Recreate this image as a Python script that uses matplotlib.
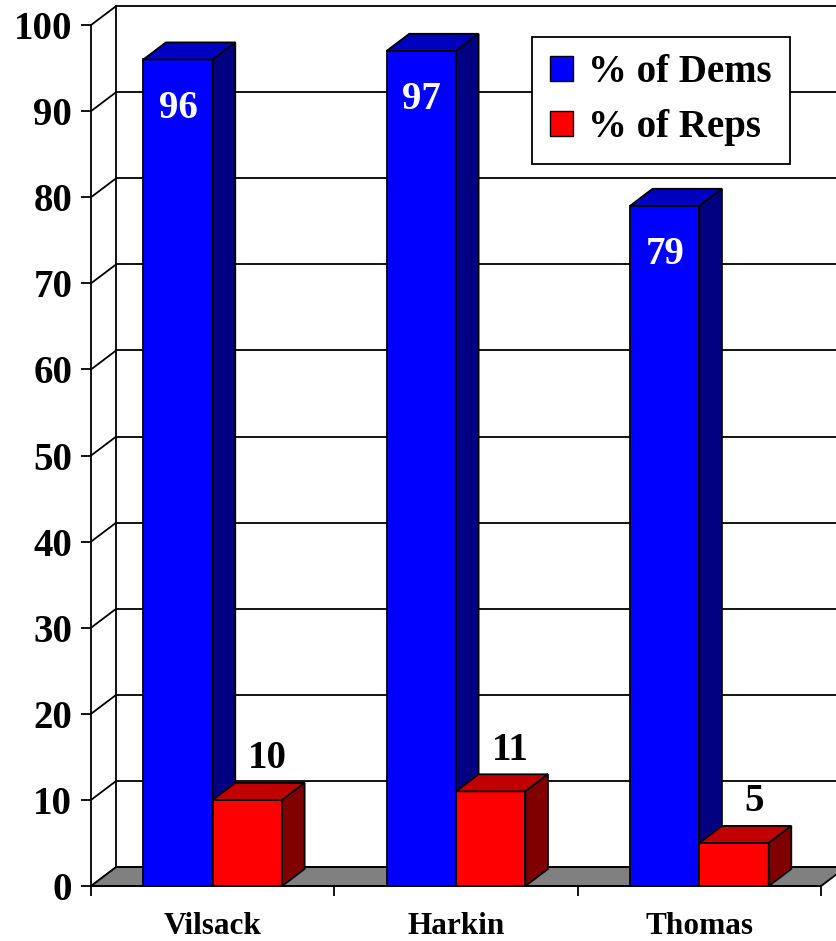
import matplotlib.pyplot as plt
from matplotlib.patches import Polygon, Patch

# ---- data -------------------------------------------------------------
candidates = ["Vilsack", "Harkin", "Thomas"]
dems = [96, 97, 79]
reps = [10, 11, 5]
series_names = ["% of Dems", "% of Reps"]
yticks = list(range(0, 101, 10))

# ---- style ------------------------------------------------------------
FONT = "Liberation Serif"
BLUE = ("#0000ff", "#0000c0", "#000080")   # front, top, side
RED = ("#ff0000", "#c00000", "#800000")
FLOOR = "#808080"
LW = 1.3

BAR_W = 0.285            # width of one bar in category units
DX, DY = 0.103, 2.2      # depth offset of the walls (data units)
BAR_DEPTH = 0.9          # bars are a bit shallower than the floor

fig = plt.figure(figsize=(8.36, 9.41), dpi=100)
fig.patch.set_facecolor("white")
ax = fig.add_axes([0.1089, 0.0584, 0.8732, 0.915])
ax.set_xlim(0, len(candidates))
ax.set_ylim(0, 100)
ax.set_facecolor("none")


def poly(pts, fc, z):
    ax.add_patch(Polygon(pts, closed=True, fc=fc, ec="black", lw=LW,
                         joinstyle="miter", zorder=z, clip_on=False))


def box(x0, h, colors, z):
    dx, dy = DX * BAR_DEPTH, DY * BAR_DEPTH
    x1 = x0 + BAR_W
    front, top, side = colors
    poly([(x0, 0), (x1, 0), (x1, h), (x0, h)], front, z)
    poly([(x0, h), (x1, h), (x1 + dx, h + dy), (x0 + dx, h + dy)], top, z)
    poly([(x1, 0), (x1 + dx, dy), (x1 + dx, h + dy), (x1, h)], side, z)


# walls: gridlines on the left wall (diagonal) and back wall (horizontal)
xmax = len(candidates)
for v in yticks:
    ax.plot([0, DX], [v, v + DY], color="black", lw=LW, zorder=1, clip_on=False)
    ax.plot([DX, xmax + DX + 0.3], [v + DY, v + DY], color="black", lw=LW,
            zorder=1, clip_on=False)
ax.plot([DX, DX], [DY, 100 + DY], color="black", lw=LW, zorder=1, clip_on=False)

# floor
poly([(0, 0), (xmax, 0), (xmax + DX, DY), (DX, DY)], FLOOR, 2)

# bars
for i, (d, r) in enumerate(zip(dems, reps)):
    c = i + 0.5
    box(c - BAR_W, d, BLUE, 5 + i)
    box(c, r, RED, 5 + i)
    ax.text(c - BAR_W / 2, d - 5.7, str(d), color="white", ha="center",
            va="center", fontsize=28, fontweight="bold", family=FONT, zorder=20)
    ax.text(c + BAR_W / 2 + 0.082, r + 4.8, str(r), color="black", ha="center",
            va="center", fontsize=28, fontweight="bold", family=FONT, zorder=20)

# axes
for s in ("top", "right"):
    ax.spines[s].set_visible(False)
for s in ("left", "bottom"):
    ax.spines[s].set_linewidth(LW)
    ax.spines[s].set_zorder(3)

ax.set_yticks(yticks)
ax.set_yticklabels([str(v) for v in yticks], fontsize=28, fontweight="bold",
                   family=FONT)
ax.tick_params(axis="y", direction="out", length=7.5, width=LW, pad=6)

ax.set_xticks(range(xmax + 1))
ax.set_xticklabels([])
ax.set_xticks([i + 0.5 for i in range(xmax)], minor=True)
ax.set_xticklabels(candidates, minor=True, fontsize=22.5, fontweight="bold",
                   family=FONT)
ax.tick_params(axis="x", which="major", direction="out", length=7.5, width=LW)
ax.tick_params(axis="x", which="minor", length=0, pad=19)

handles = [Patch(fc=BLUE[0], ec="black", lw=1.0),
           Patch(fc=RED[0], ec="black", lw=1.0)]
leg = fig.legend(handles, series_names, loc="upper left",
                 bbox_to_anchor=(532 / 836, 1 - 37 / 941), borderaxespad=0,
                 prop={"family": FONT, "weight": "bold", "size": 28},
                 handlelength=0.6, handleheight=0.6, handletextpad=0.4,
                 borderpad=0.45, labelspacing=0.45, fancybox=False,
                 framealpha=1, edgecolor="black")
leg.get_frame().set_linewidth(LW)

fig.savefig("out.png", dpi=100, facecolor="white")
